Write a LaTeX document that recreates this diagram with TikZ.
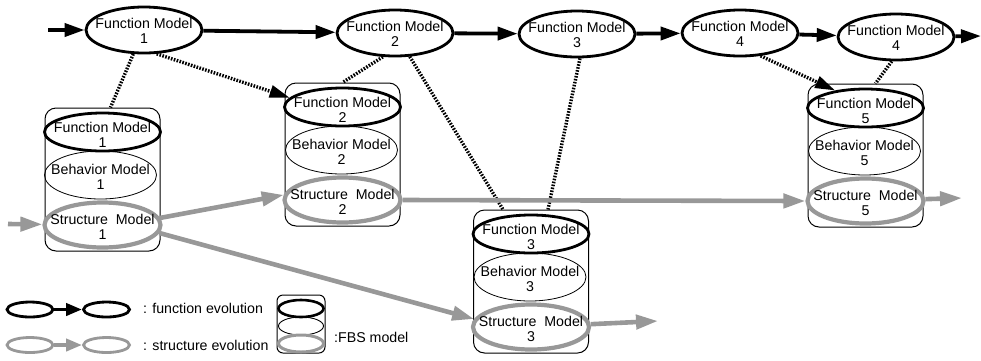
\documentclass[tikz,border=0pt]{standalone}
\usepackage{fontspec}
\setmainfont{Liberation Sans}
\usetikzlibrary{shapes.geometric,arrows.meta,calc}
\definecolor{sgray}{RGB}{152,152,152}
\tikzset{
  txt/.style={align=center,inner sep=0pt,font=\fontsize{14.2}{15}\selectfont},
  fmod/.style={ellipse,draw=black,line width=2.8pt,fill=white,inner sep=0pt,
    minimum width=116pt,minimum height=46pt,label={[txt,yshift=-1pt]center:#1}},
  ifm/.style={ellipse,draw=black,line width=2.8pt,inner sep=0pt,
    minimum width=116pt,minimum height=38pt,label={[txt,yshift=-3pt]center:#1}},
  ibm/.style={ellipse,draw=black,line width=0.8pt,inner sep=0pt,
    minimum width=112pt,minimum height=48pt,label={[txt,yshift=-2pt]center:#1}},
  ism/.style={ellipse,draw=sgray,line width=4.2pt,inner sep=0pt,
    minimum width=116pt,minimum height=45pt,label={[txt,yshift=-2pt]center:#1}},
  cylbox/.style={rectangle,draw=black,line width=1pt,rounded corners=11pt,fill=white,
    inner sep=0pt,minimum width=115pt,minimum height=143pt},
  farrow/.style={draw=black,line width=3.8pt,-{Triangle[length=20pt,width=13pt]}},
  sarrow/.style={draw=sgray,line width=4.6pt,-{Triangle[length=22pt,width=14pt]}},
  dotl/.style={draw=black,line width=3.4pt,dash pattern=on 1.6pt off 1.4pt},
  dotarrow/.style={dotl,-{Triangle[length=20pt,width=12pt]}},
  lfe/.style={ellipse,draw=black,line width=2.8pt,inner sep=0pt,minimum width=46pt,minimum height=15pt},
  lse/.style={ellipse,draw=sgray,line width=2.8pt,inner sep=0pt,minimum width=46pt,minimum height=15pt},
  legtxt/.style={anchor=west,inner sep=0pt,font=\fontsize{14.2}{15}\selectfont},
}
\begin{document}
\begin{tikzpicture}[x=1pt,y=-1pt]
\useasboundingbox (0,0) rectangle (981,360);

% top row function models
\node[fmod={Function Model\\1}] (f1) at (144,30) {};
\node[fmod={Function Model\\2}] (f2) at (395,33) {};
\node[fmod={Function Model\\3}] (f3) at (577,34) {};
\node[fmod={Function Model\\4}] (f4) at (740,33) {};
\node[fmod={Function Model\\4}] (f4b) at (896,37) {};
\coordinate (s0) at (48,30);
\coordinate (e0) at (981,36);

% FBS models (cylinders)
\node[cylbox] (c1) at (102.5,179.5) {};
\node[ifm={Function Model\\1}] (fm1) at (102.5,132) {};
\node[ibm={Behavior Model\\1}] (bm1) at (100.5,175) {};
\node[ism={Structure~~Model\\1}] (sm1) at (102.5,225) {};
\node[cylbox] (c2) at (342.5,154.5) {};
\node[ifm={Function Model\\2}] (fm2) at (342.5,107) {};
\node[ibm={Behavior Model\\2}] (bm2) at (341.5,150) {};
\node[ism={Structure~~Model\\2}] (sm2) at (342.5,200) {};
\node[cylbox] (c3) at (531,281.5) {};
\node[ifm={Function Model\\3}] (fm3) at (531,234) {};
\node[ibm={Behavior Model\\3}] (bm3) at (530,277) {};
\node[ism={Structure~~Model\\3}] (sm3) at (531,327) {};
\node[cylbox] (c5) at (865.5,155.5) {};
\node[ifm={Function Model\\5}] (fm5) at (865.5,108) {};
\node[ibm={Behavior Model\\5}] (bm5) at (864.5,151) {};
\node[ism={Structure~~Model\\5}] (sm5) at (865.5,201) {};

% function evolution arrows
\draw[farrow] (s0) -- (f1);
\draw[farrow] (f1) -- (f2);
\draw[farrow] (f2) -- (f3);
\draw[farrow] (f3) -- (f4);
\draw[farrow] (f4) -- (f4b);
\draw[farrow] (f4b) -- (e0);

% dotted links
\draw[dotl] (f1.246) -- ($(c1.north)+(8,0)$);
\draw[dotarrow] (f1.298) -- (fm2.170);
\draw[dotl] (f2.243) -- (c2.north);
\draw[dotl] (f2.302) -- ($(c3.north)+(-28,0)$);
\draw[dotl] (f3.277) -- ($(c3.north)+(17,0)$);
\draw[dotarrow] (f4.312) -- (fm5.150);
\draw[dotl] (f4b.260) -- ($(c5.north)+(10,0)$);

% structure evolution arrows
\coordinate (g0) at (8,224);
\coordinate (e3) at (658,321);
\coordinate (e5) at (962,198);
\draw[sarrow] (g0) -- (sm1);
\draw[sarrow] (sm1.7) -- (sm2.175);
\draw[sarrow] (sm1.-8) -- (sm3.172);
\draw[sarrow] (sm2.east) -- (sm5.west);
\draw[sarrow] (sm3) -- (e3);
\draw[sarrow] (sm5) -- (e5);

% legend
\node[lfe] (lf1) at (30,309.5) {};
\node[lfe] (lf2) at (106.5,309.5) {};
\draw[draw=black,line width=3.8pt,-{Triangle[length=16pt,width=12pt]}] (lf1) -- (lf2);
\node[lse] (ls1) at (30,345) {};
\node[lse] (ls2) at (106.5,345) {};
\draw[draw=sgray,line width=3.8pt,-{Triangle[length=16pt,width=12pt]}] (ls1) -- (ls2);
\node[legtxt] (lt1) at (143,308) {: function evolution};
\node[legtxt] (lt2) at (143,345) {: structure evolution};
\node[rectangle,draw=black,line width=1pt,rounded corners=6pt,inner sep=0pt,
  minimum width=48pt,minimum height=58pt] (lc) at (301,324) {};
\node[ellipse,draw=black,line width=2.6pt,inner sep=0pt,minimum width=45pt,minimum height=17pt] (lcf) at (301,308.5) {};
\node[ellipse,draw=black,line width=0.9pt,inner sep=0pt,minimum width=45pt,minimum height=18pt] (lcb) at (301,326) {};
\node[ellipse,draw=sgray,line width=3pt,inner sep=0pt,minimum width=45pt,minimum height=17pt] (lcs) at (301,343.5) {};
\node[legtxt] (lt3) at (334,337) {:FBS model};
\end{tikzpicture}
\end{document}
